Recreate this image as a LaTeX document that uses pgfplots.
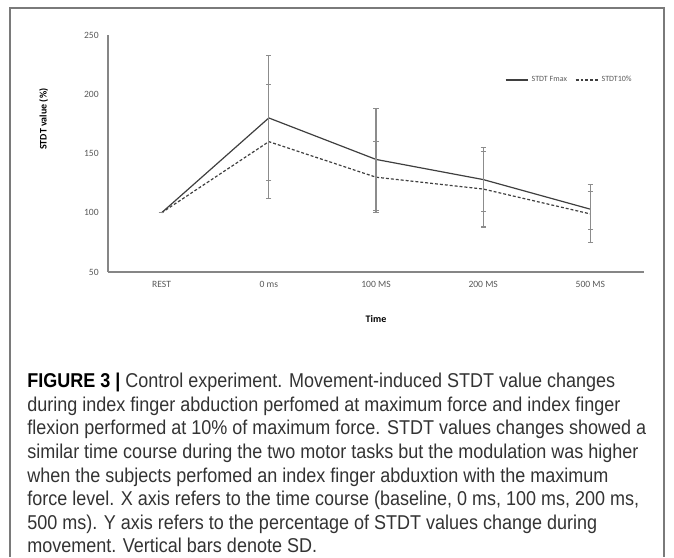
\documentclass[border=0pt]{standalone}
\usepackage{pgfplots}
\pgfplotsset{compat=1.18}
\usepackage{fontspec}
\setmainfont{Liberation Sans}[FakeStretch=0.9]
\newfontfamily\chartfont{Carlito}
\definecolor{linegray}{HTML}{3F3F3F}
\definecolor{errgray}{HTML}{8C8C8C}
\definecolor{axisgray}{HTML}{868686}
\definecolor{ticktext}{HTML}{595959}
\definecolor{framegray}{HTML}{7A7A7A}
\definecolor{captext}{HTML}{333333}
\begin{document}
\begin{tikzpicture}
\begin{scope}[x=0.75pt,y=0.75pt]
\path[use as bounding box] (0,0) rectangle (674,557);
\draw[framegray, line width=1.1pt] (10,0) -- (10,549) -- (664,549) -- (664,0);
\begin{scope}[every node/.style={anchor=base west, inner sep=0pt, text=captext, font=\fontsize{15}{18}\selectfont}]
\node at (27,170) {\textcolor{black}{\textbf{FIGURE 3 |}} Control experiment. Movement-induced STDT value changes};
\node at (27,146) {during index finger abduction perfomed at maximum force and index finger};
\node at (27,123) {flexion performed at 10\% of maximum force. STDT values changes showed a};
\node at (27,99) {similar time course during the two motor tasks but the modulation was higher};
\node at (27,75) {when the subjects perfomed an index finger abduxtion with the maximum};
\node at (27,52) {force level. X axis refers to the time course (baseline, 0 ms, 100 ms, 200 ms,};
\node at (27,28) {500 ms). Y axis refers to the percentage of STDT values change during};
\node at (27,5) {movement. Vertical bars denote SD.};
\end{scope}
\end{scope}
\begin{axis}[
  at={(81pt,213.75pt)}, anchor=south west,
  scale only axis, width=402pt, height=177.75pt,
  xmin=-0.5, xmax=4.5, ymin=50, ymax=250,
  axis lines=left,
  axis line style={-, draw=axisgray, line width=0.9pt},
  xtick={0,1,2,3,4},
  xticklabels={REST, 0 ms, 100 MS, 200 MS, 500 MS},
  ytick={50,100,150,200,250},
  major tick length=0pt,
  tick label style={font=\chartfont\fontsize{7.2}{8}\selectfont, text=ticktext},
  /pgf/number format/assume math mode=true,
  xticklabel style={yshift=-3.2pt},
  yticklabel style={xshift=-3.5pt},
  xlabel={\textbf{Time}},
  ylabel={\textbf{STDT value (\%)}},
  xlabel style={at={(axis description cs:0.5,-0.2)}, anchor=center, font=\chartfont\fontsize{7.5}{8}\selectfont, text=black},
  ylabel style={at={(axis description cs:-0.12,0.645)}, anchor=center, font=\chartfont\fontsize{7.5}{8}\selectfont, text=black},
  legend style={at={(axis description cs:0.99,0.81)}, anchor=east, draw=none, fill=none,
    font=\chartfont\fontsize{6}{7}\selectfont, text=ticktext, legend columns=2,
    /tikz/every even column/.append style={column sep=4pt}},
  clip=false,
]
\addplot[linegray, line width=0.9pt, no marks,
  error bars/.cd, y dir=both, y explicit, error mark=-,
  error bar style={errgray, line width=0.8pt, solid},
  error mark options={rotate=90, errgray, mark size=2pt, line width=0.8pt, solid}]
  coordinates {
    (0,100) +- (0,0)
    (1,180) +- (0,53)
    (2,145) +- (0,43)
    (3,128) +- (0,27)
    (4,103) += (0,21) -= (0,17)
  };
\addlegendentry{STDT Fmax}
\addplot[linegray, line width=0.9pt, no marks, dash pattern=on 2.2pt off 1.5pt,
  error bars/.cd, y dir=both, y explicit, error mark=-,
  error bar style={errgray, line width=0.8pt, solid},
  error mark options={rotate=90, errgray, mark size=2pt, line width=0.8pt, solid}]
  coordinates {
    (0,100) +- (0,0)
    (1,160) +- (0,48)
    (2,130) +- (0,30)
    (3,120) +- (0,32)
    (4,99) += (0,19) -= (0,24)
  };
\addlegendentry{STDT10\%}
\end{axis}
\end{tikzpicture}
\end{document}
